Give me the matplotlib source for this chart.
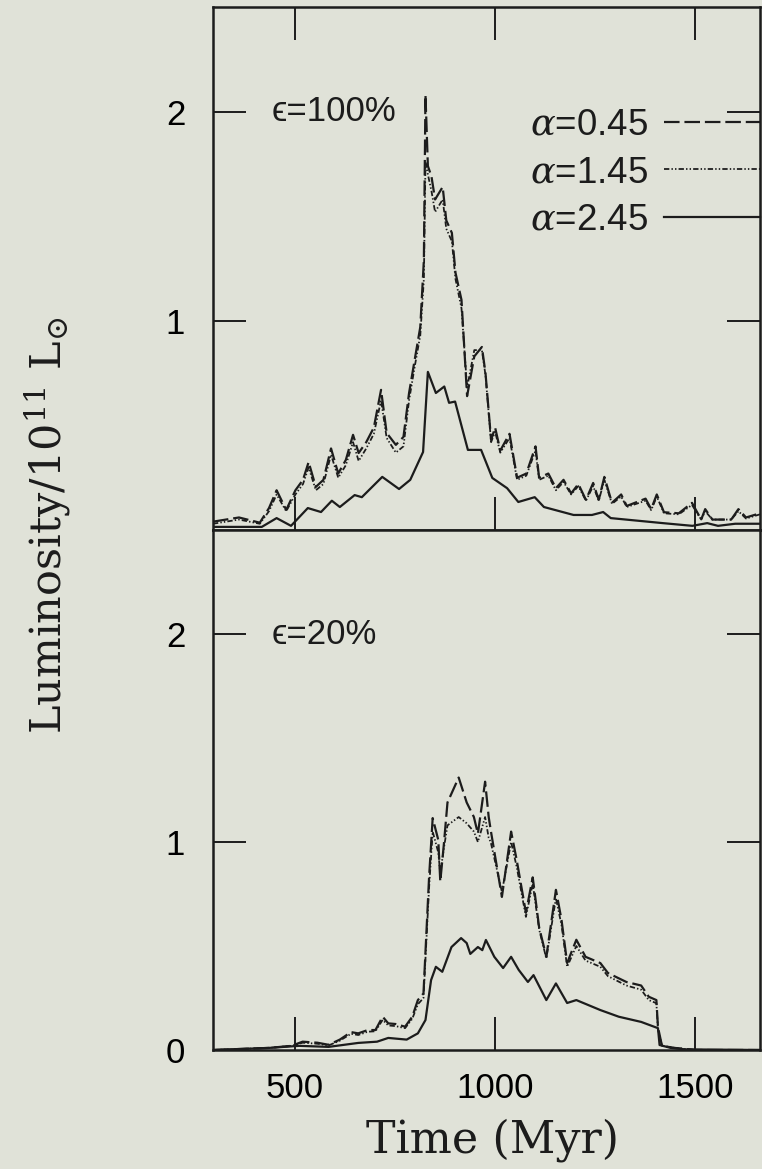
import matplotlib
matplotlib.use("Agg")
import matplotlib.pyplot as plt
from matplotlib.lines import Line2D

plt.rcParams['mathtext.fontset'] = 'dejavuserif'

# luminosity curves, efficiency 100% (top panel)
top_time = [295, 360, 412, 435, 454, 478, 501, 520, 534, 552, 571, 590, 608, 627, 645, 659, 678, 697,
            715, 729, 752, 771, 785, 799, 813, 822, 826, 832, 841, 850, 869, 878, 892, 901, 916, 930,
            948, 967, 976, 990, 1000, 1013, 1036, 1055, 1078, 1101, 1110, 1133, 1152, 1171, 1190, 1208,
            1227, 1245, 1259, 1273, 1292, 1315, 1329, 1376, 1390, 1404, 1422, 1459, 1492, 1515, 1525,
            1543, 1590, 1608, 1627, 1662]
top_a045 = [0.04, 0.06, 0.035, 0.105, 0.19, 0.096, 0.19, 0.24, 0.325, 0.206, 0.24, 0.39, 0.27, 0.335,
            0.455, 0.368, 0.42, 0.49, 0.67, 0.464, 0.407, 0.445, 0.655, 0.813, 0.97, 1.29, 2.08, 1.74,
            1.69, 1.58, 1.64, 1.48, 1.42, 1.23, 1.10, 0.64, 0.83, 0.875, 0.75, 0.43, 0.49, 0.38, 0.46,
            0.25, 0.27, 0.40, 0.25, 0.27, 0.2, 0.24, 0.175, 0.22, 0.144, 0.225, 0.144, 0.254, 0.13,
            0.17, 0.115, 0.15, 0.1, 0.17, 0.085, 0.08, 0.13, 0.05, 0.1, 0.05, 0.05, 0.1, 0.06, 0.08]
top_a145 = [0.03, 0.05, 0.03, 0.09, 0.17, 0.09, 0.17, 0.22, 0.30, 0.19, 0.22, 0.36, 0.25, 0.31, 0.42,
            0.33, 0.39, 0.46, 0.62, 0.44, 0.37, 0.40, 0.62, 0.78, 0.93, 1.20, 1.76, 1.70, 1.62, 1.52,
            1.58, 1.44, 1.38, 1.20, 1.06, 0.68, 0.86, 0.86, 0.74, 0.42, 0.47, 0.37, 0.44, 0.24, 0.26,
            0.38, 0.24, 0.26, 0.19, 0.23, 0.17, 0.21, 0.14, 0.21, 0.14, 0.24, 0.125, 0.16, 0.11, 0.14,
            0.095, 0.16, 0.08, 0.075, 0.12, 0.05, 0.09, 0.05, 0.05, 0.09, 0.055, 0.075]
top_time_a245 = [295, 417, 454, 490, 532, 565, 592, 612, 649, 667, 718, 760, 788, 820, 832, 852, 873,
                 885, 900, 932, 965, 993, 1030, 1058, 1099, 1122, 1196, 1242, 1270, 1289, 1419, 1493,
                 1530, 1557, 1600, 1662]
top_a245 = [0.015, 0.015, 0.057, 0.02, 0.105, 0.086, 0.14, 0.11, 0.167, 0.157, 0.254, 0.196, 0.24,
            0.373, 0.756, 0.655, 0.686, 0.608, 0.614, 0.383, 0.383, 0.249, 0.2, 0.134, 0.157, 0.11,
            0.072, 0.072, 0.086, 0.057, 0.033, 0.02, 0.033, 0.02, 0.03, 0.03]

# efficiency 20% (bottom panel)
bot_time = [295, 435, 491, 519, 556, 584, 612, 640, 658, 682, 701, 719, 733, 751, 775, 793, 807, 821,
            835, 844, 858, 863, 872, 881, 909, 929, 947, 957, 975, 984, 989, 1017, 1040, 1054, 1077,
            1094, 1110, 1128, 1152, 1166, 1180, 1203, 1226, 1263, 1282, 1328, 1365, 1384, 1403, 1407,
            1417, 1449, 1500, 1662]
bot_a045 = [0.0, 0.01, 0.02, 0.04, 0.035, 0.025, 0.05, 0.086, 0.08, 0.096, 0.096, 0.16, 0.128, 0.125,
            0.112, 0.16, 0.24, 0.272, 0.83, 1.115, 1.01, 0.81, 0.99, 1.19, 1.31, 1.19, 1.12, 1.04,
            1.29, 1.12, 1.058, 0.736, 1.05, 0.913, 0.66, 0.83, 0.59, 0.448, 0.77, 0.625, 0.418, 0.53,
            0.448, 0.418, 0.37, 0.327, 0.31, 0.256, 0.24, 0.11, 0.02, 0.01, 0.0, 0.0]
bot_a145 = [0.0, 0.01, 0.02, 0.035, 0.03, 0.022, 0.045, 0.078, 0.072, 0.088, 0.09, 0.145, 0.118, 0.115,
            0.105, 0.15, 0.22, 0.25, 0.78, 1.05, 0.95, 0.85, 0.97, 1.08, 1.12, 1.09, 1.05, 1.00, 1.12,
            1.02, 1.0, 0.76, 1.0, 0.88, 0.64, 0.80, 0.58, 0.44, 0.73, 0.60, 0.40, 0.50, 0.43, 0.40,
            0.355, 0.31, 0.29, 0.24, 0.225, 0.10, 0.02, 0.01, 0.0, 0.0]
bot_time_a245 = [295, 435, 510, 584, 658, 705, 733, 779, 807, 826, 840, 852, 868, 891, 915, 929, 938,
                 957, 968, 977, 998, 1020, 1040, 1059, 1082, 1096, 1128, 1152, 1180, 1203, 1263, 1309,
                 1365, 1407, 1411, 1439, 1476, 1662]
bot_a245 = [0.0, 0.01, 0.02, 0.015, 0.034, 0.04, 0.058, 0.05, 0.08, 0.144, 0.336, 0.4, 0.376, 0.495,
            0.538, 0.514, 0.462, 0.495, 0.48, 0.529, 0.448, 0.394, 0.448, 0.385, 0.327, 0.36, 0.24,
            0.32, 0.226, 0.24, 0.192, 0.16, 0.135, 0.105, 0.024, 0.01, 0.003, 0.0]

alpha_labels = [r'$\alpha$=0.45', r'$\alpha$=1.45', r'$\alpha$=2.45']
eps_labels = ['\u03f5=100%', '\u03f5=20%']

bg = '#e0e2d8'
ink = '#1c1c1c'
sans = ['Liberation Sans', 'DejaVu Sans']
dash_045 = (0, (7, 2.2))
dash_145 = (0, (3, 1.2, 0.8, 1.2, 0.8, 1.2))
lw = 1.6
fs = 25

fig = plt.figure(figsize=(7.62, 11.69), dpi=100, facecolor=bg)
ax1 = fig.add_axes([0.2795, 0.5466, 0.7179, 0.4474])
ax2 = fig.add_axes([0.2795, 0.1018, 0.7179, 0.4448])

for ax in (ax1, ax2):
    ax.set_facecolor(bg)
    ax.set_xlim(295, 1662)
    ax.set_ylim(0, 2.5)
    for s in ax.spines.values():
        s.set_linewidth(1.8)
        s.set_color(ink)
    ax.set_xticks([500, 1000, 1500])

ax1.plot(top_time, top_a045, color=ink, lw=lw, ls=dash_045)
ax1.plot(top_time, top_a145, color=ink, lw=lw * 0.8, ls=dash_145)
ax1.plot(top_time_a245, top_a245, color=ink, lw=lw, ls='-')

ax2.plot(bot_time, bot_a045, color=ink, lw=lw, ls=dash_045)
ax2.plot(bot_time, bot_a145, color=ink, lw=lw * 0.8, ls=dash_145)
ax2.plot(bot_time_a245, bot_a245, color=ink, lw=lw, ls='-')

tick_kw = dict(direction='in', length=24, width=1.4, color=ink)
ax1.set_yticks([1, 2])
ax1.tick_params(axis='both', top=True, bottom=True, left=True, right=True,
                labelbottom=False, **tick_kw)
ax1.tick_params(axis='y', labelsize=fs, pad=20)
ax2.set_yticks([0, 1, 2])
ax2.tick_params(axis='both', top=False, bottom=True, left=True, right=True, **tick_kw)
ax2.tick_params(axis='y', labelsize=fs, pad=20)
ax2.tick_params(axis='x', labelsize=fs, pad=16)
for ax in (ax1, ax2):
    for lab in ax.get_xticklabels() + ax.get_yticklabels():
        lab.set_family(sans)

ax1.text(442, 2.0, eps_labels[0], fontsize=fs, va='center', ha='left', color=ink, family=sans)
ax2.text(442, 2.0, eps_labels[1], fontsize=fs, va='center', ha='left', color=ink, family=sans)

handles = [Line2D([], [], color=ink, lw=lw, ls=dash_045),
           Line2D([], [], color=ink, lw=lw * 0.8, ls=dash_145),
           Line2D([], [], color=ink, lw=lw, ls='-')]
leg = ax1.legend(handles, alpha_labels, loc='center right', bbox_to_anchor=(1.0, 0.683),
                 frameon=False, markerfirst=False, borderpad=0, borderaxespad=0,
                 handlelength=2.6, handletextpad=0.45, labelspacing=0.34,
                 prop={'family': sans, 'size': 26.5})
for t in leg.get_texts():
    t.set_color(ink)

fig.text(0.063, 1 - 525 / 1169, r'Luminosity/10$^{11}$ L$_{\odot}$', rotation=90,
         ha='center', va='center', fontsize=31, family='DejaVu Serif', color=ink)
fig.text(493 / 762, 1 - 1140 / 1169, 'Time (Myr)', ha='center', va='center',
         fontsize=32, family='DejaVu Serif', color=ink)

fig.savefig('out.png', dpi=100, facecolor=bg)
